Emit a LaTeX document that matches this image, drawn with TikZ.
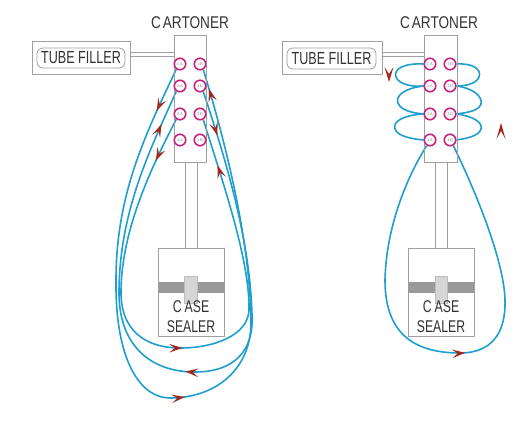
\documentclass[tikz,border=0pt]{standalone}
\usepackage{fontspec}
\newfontfamily\narrowsf[FakeStretch=0.72]{Liberation Sans}
\newfontfamily\cartsf[FakeStretch=0.8]{Liberation Sans}
\usetikzlibrary{arrows.meta,decorations.markings,backgrounds}
\definecolor{loopblue}{HTML}{1E9FCF}
\definecolor{portmag}{HTML}{C8237A}
\definecolor{arrowred}{HTML}{A0281E}
\definecolor{boxgray}{HTML}{A0A0A0}
\definecolor{bandgray}{HTML}{9A9A9A}
\definecolor{tabgray}{HTML}{D6D6D6}
\definecolor{textgray}{HTML}{333333}
\newcommand\fwdtip{\arrow{Stealth[length=13pt,width=8.5pt,inset=5.5pt,color=arrowred]}}
\newcommand\revtip{\arrowreversed{Stealth[length=13pt,width=8.5pt,inset=5.5pt,color=arrowred]}}
\begin{document}
\begin{tikzpicture}[x=1pt,y=-1pt,
  box/.style={draw=boxgray, line width=0.8pt, inner sep=0pt},
  port/.style={circle, draw=portmag, line width=1.6pt, fill=white, minimum size=11.5pt, inner sep=0pt, font=\fontsize{4}{4}\selectfont, text=gray},
  flow/.style={draw=loopblue, line width=1.6pt},
  label/.style={text=textgray, inner sep=0pt},
  tab/.style={fill=tabgray, draw=boxgray!70, line width=0.5pt}
]
\useasboundingbox (0,0) rectangle (518,422);

% ---------------- LEFT DIAGRAM ----------------
\node[label, anchor=base, font=\cartsf\fontsize{17}{17}\selectfont] (cartLt) at (190,29) {C\kern2pt ARTONER};
\node[box, minimum width=98pt, minimum height=33pt] (tfL) at (81,57.5) {};
\node[box, rounded corners=6pt, minimum width=88pt, minimum height=20pt, text=textgray, font=\narrowsf\fontsize{17.5}{17.5}\selectfont] (tfLin) at (81,58) {TUBE FILLER};
\node[box, minimum width=32pt, minimum height=127pt] (cartL) at (190.5,98.5) {};
\draw[box] ([yshift=5.5pt]tfL.east) -- ([yshift=5.5pt]tfL.east -| cartL.west);
\draw[box] ([yshift=1pt]tfL.east) -- ([yshift=1pt]tfL.east -| cartL.west);

\node[box, minimum width=66pt, minimum height=88pt] (sealL) at (191,292) {};
\draw[box] ([xshift=-6pt]sealL.north) -- ([xshift=-6pt]sealL.north |- cartL.south);
\draw[box] ([xshift=6pt]sealL.north) -- ([xshift=6pt]sealL.north |- cartL.south);
\fill[bandgray] (158,282) rectangle (224,293);
\draw[tab] (184.5,276) rectangle (197,303);
\node[label, anchor=base, font=\narrowsf\fontsize{17}{17}\selectfont] (caseL) at (191,312.5) {C\kern3pt ASE};
\node[label, anchor=base, font=\narrowsf\fontsize{17}{17}\selectfont] (sealerL) at (191,332) {SEALER};

\foreach \r/\yy in {1/64,2/86,3/114,4/140}{
  \node[port] (lA\r) at (180,\yy) {\r A};
  \node[port] (lB\r) at (200,\yy) {\r B};
}

\begin{pgfonlayer}{background}
\draw[flow, postaction={decorate, decoration={markings,
   mark=at position 46pt with {\fwdtip},
   mark=at position 378pt with {\fwdtip},
   mark=at position -20pt with {\fwdtip}}}]
  (lA1.235) .. controls (145,135) and (116,195) .. (116,280)
  .. controls (115,360) and (140,398) .. (170,398)
  .. controls (215,398) and (252,370) .. (251,320)
  .. controls (250,250) and (231,160) .. (lB1.-60);
\draw[flow, postaction={decorate, decoration={markings,
   mark=at position 36pt with {\revtip},
   mark=at position 326pt with {\revtip},
   mark=at position -46pt with {\revtip}}}]
  (lA2.235) .. controls (150,150) and (120,210) .. (119,290)
  .. controls (118,345) and (150,372) .. (195,372)
  .. controls (235,372) and (254,350) .. (252,315)
  .. controls (250,240) and (226,160) .. (lB2.-60);
\draw[flow, postaction={decorate, decoration={markings,
   mark=at position 46pt with {\fwdtip},
   mark=at position 278pt with {\fwdtip},
   mark=at position -48pt with {\fwdtip}}}]
  (lA3.235) .. controls (150,170) and (122,230) .. (121,290)
  .. controls (120,330) and (145,348) .. (180,348)
  .. controls (215,348) and (248,335) .. (249,310)
  .. controls (250,260) and (222,180) .. (lB3.-60);
\end{pgfonlayer}

% ---------------- RIGHT DIAGRAM ----------------
\node[label, anchor=base, font=\cartsf\fontsize{17}{17}\selectfont] (cartRt) at (439,29) {C\kern2pt ARTONER};
\node[box, minimum width=100pt, minimum height=33pt] (tfR) at (332,57.5) {};
\node[box, rounded corners=6pt, minimum width=89pt, minimum height=21pt, text=textgray, font=\narrowsf\fontsize{17.5}{17.5}\selectfont] (tfRin) at (331.5,58.5) {TUBE FILLER};
\node[box, minimum width=33pt, minimum height=127pt] (cartR) at (440.5,98.5) {};
\draw[box] ([yshift=5.5pt]tfR.east) -- ([yshift=5.5pt]tfR.east -| cartR.west);
\draw[box] ([yshift=1pt]tfR.east) -- ([yshift=1pt]tfR.east -| cartR.west);

\node[box, minimum width=66pt, minimum height=88pt] (sealR) at (441,292) {};
\draw[box] ([xshift=-6pt]sealR.north) -- ([xshift=-6pt]sealR.north |- cartR.south);
\draw[box] ([xshift=6pt]sealR.north) -- ([xshift=6pt]sealR.north |- cartR.south);
\fill[bandgray] (408,282) rectangle (474,293);
\draw[tab] (435,276) rectangle (447,303);
\node[label, anchor=base, font=\narrowsf\fontsize{17}{17}\selectfont] (caseR) at (441,312.5) {C\kern3pt ASE};
\node[label, anchor=base, font=\narrowsf\fontsize{17}{17}\selectfont] (sealerR) at (441,332) {SEALER};

\foreach \r/\yy in {1/64,2/86,3/114,4/140}{
  \node[port] (rA\r) at (430,\yy) {\r A};
  \node[port] (rB\r) at (450,\yy) {\r B};
}

\begin{pgfonlayer}{background}
\draw[flow] (rA1.west) .. controls (404,63) and (393,69) .. (396,77) .. controls (399,85) and (414,87) .. (rA2.west);
\draw[flow] (rA2.west) .. controls (406,88) and (395,95) .. (398,103) .. controls (401,111) and (414,113) .. (rA3.west);
\draw[flow] (rA3.west) .. controls (405,115) and (392,121) .. (395,129) .. controls (398,137) and (414,139) .. (rA4.west);
\draw[flow] (rB1.east) .. controls (472,63) and (482,69) .. (479,77) .. controls (476,85) and (462,86) .. (rB2.east);
\draw[flow] (rB2.east) .. controls (472,88) and (483,96) .. (481,104) .. controls (479,112) and (462,113) .. (rB3.east);
\draw[flow] (rB3.east) .. controls (472,116) and (483,122) .. (481,129) .. controls (479,137) and (462,139) .. (rB4.east);
\draw[flow, postaction={decorate, decoration={markings,
   mark=at position 268pt with {\fwdtip}}}]
  (rA4.240) .. controls (405,180) and (386,230) .. (385,280)
  .. controls (385,330) and (410,353) .. (460,353)
  .. controls (490,353) and (506,335) .. (505,300)
  .. controls (504,260) and (475,190) .. (rB4.-60);
\end{pgfonlayer}

% free-standing direction arrows
\fill[arrowred] (389,82) -- (384.5,67) -- (389,74) -- (393.5,67) -- cycle;
\fill[arrowred] (501,123) -- (496.5,139) -- (501,131) -- (505.5,139) -- cycle;
\end{tikzpicture}
\end{document}
